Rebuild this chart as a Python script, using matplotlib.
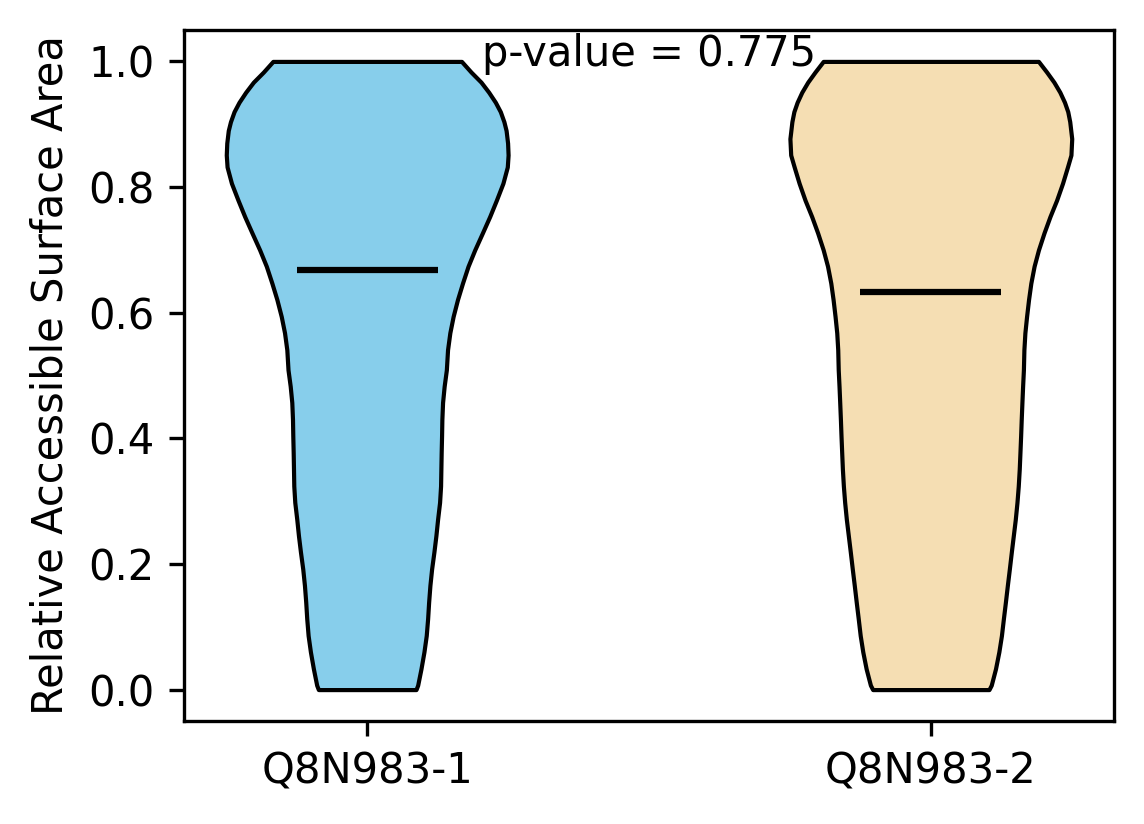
import numpy as np
import matplotlib.pyplot as plt

# isoform names and summary values
labels = ['Q8N983-1', 'Q8N983-2']
means = [0.668, 0.633]
p_value = 0.775
colors = ['skyblue', 'wheat']

# density profiles (RSA level, relative density)
rsa_1 = [0.0, 0.007, 0.033, 0.060, 0.086, 0.113, 0.139, 0.166, 0.192, 0.219,
         0.245, 0.271, 0.298, 0.324, 0.351, 0.377, 0.404, 0.430, 0.457, 0.483,
         0.509, 0.541, 0.568, 0.594, 0.621, 0.647, 0.674, 0.700, 0.727, 0.753,
         0.779, 0.806, 0.832, 0.851, 0.870, 0.890, 0.904, 0.920, 0.935, 0.951,
         0.967, 0.983, 1.0]
dens_1 = [49, 50.7, 54, 57, 59.3, 60.7, 61.7, 63, 64.7, 67,
          69, 70.7, 72.7, 73.7, 74, 74.3, 74.7, 75, 75.7, 77.3,
          79.5, 80.7, 83, 86.3, 90.7, 95.7, 101.3, 108, 115.7, 123,
          129.7, 136.3, 140.7, 141.5, 141, 139.5, 137.3, 133.7, 128.7, 122,
          114.3, 104.3, 94.7]

rsa_2 = [0.0, 0.007, 0.033, 0.060, 0.086, 0.113, 0.139, 0.166, 0.192, 0.219,
         0.245, 0.271, 0.298, 0.324, 0.351, 0.377, 0.404, 0.430, 0.457, 0.483,
         0.509, 0.541, 0.568, 0.594, 0.621, 0.647, 0.674, 0.700, 0.727, 0.753,
         0.779, 0.806, 0.832, 0.851, 0.877, 0.904, 0.920, 0.935, 0.951, 0.967,
         0.983, 1.0]
dens_2 = [58.7, 61, 65.3, 68.7, 71.3, 73.3, 75.3, 77.3, 79.3, 81.3,
          83.3, 85.3, 87, 88.3, 89.3, 90, 90.7, 91.3, 92, 92.7,
          93.5, 94, 95, 96.7, 98.7, 101, 104.3, 108.7, 114.3, 120.3,
          127, 133, 138, 141.5, 142.3, 140.3, 138.3, 135, 130.3, 124.3,
          117, 108.7]

profiles = [(rsa_1, dens_1), (rsa_2, dens_2)]
vpstats = []
for (rsa, dens), m in zip(profiles, means):
    vpstats.append({'coords': np.array(rsa), 'vals': np.array(dens),
                    'mean': m, 'median': m, 'min': min(rsa), 'max': max(rsa)})

fig, ax = plt.subplots(figsize=(1144/300, 824/300), dpi=300)
fig.subplots_adjust(left=184/1144, right=1114/1144, top=1-30/824, bottom=1-721/824)

parts = ax.violin(vpstats, positions=[1, 2], widths=0.5,
                  showmeans=True, showextrema=False)
for body, c in zip(parts['bodies'], colors):
    body.set_facecolor(c)
    body.set_edgecolor('black')
    body.set_linewidth(1)
    body.set_alpha(1)
parts['cmeans'].set_color('black')
parts['cmeans'].set_linewidth(1.5)

ax.set_xticks([1, 2])
ax.set_xticklabels(labels)
ax.set_ylabel('Relative Accessible Surface Area')
ax.text(1.5, 0.978, 'p-value = %.3f' % p_value, ha='center', va='bottom')

fig.savefig('out.png', dpi=300)
